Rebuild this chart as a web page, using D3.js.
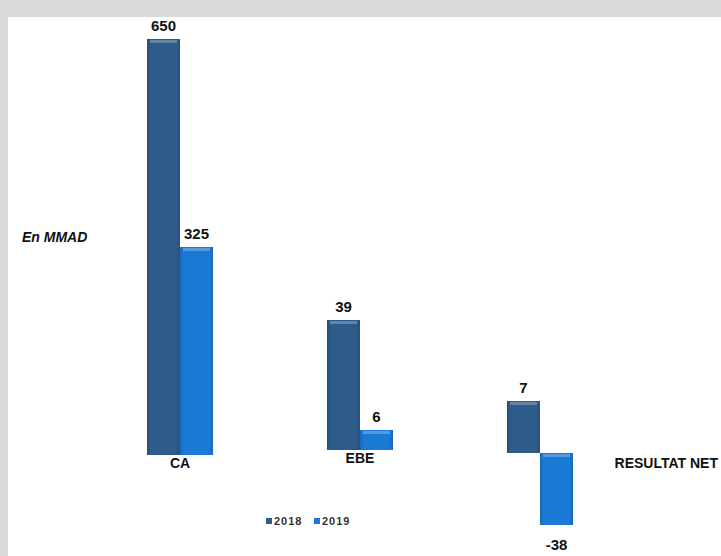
<!DOCTYPE html>
<html>
<head>
<meta charset="utf-8">
<script src="https://cdn.jsdelivr.net/npm/d3@7"></script>
<style>
  body { margin: 0; background: #d9d9d9; }
  svg { display: block; }
</style>
</head>
<body>
<div id="chart"></div>
<script>
// data
var categories = ["CA", "EBE", "RESULTAT NET"];
var years = ["2018", "2019"];
var values2018 = [650, 39, 7];
var values2019 = [325, 6, -38];
var unitLabel = "En MMAD";

function init(){

    var w = 721;
    var h = 556;

    var svg = d3.select("#chart")
        .append("svg")
        .attr("width", w)
        .attr("height", h);

    // white panel on the grey frame
    svg.append("rect")
        .attr("x", 8)
        .attr("y", 17)
        .attr("width", w - 8)
        .attr("height", h - 17)
        .attr("fill", "#ffffff");

    var colors = { "2018": "#2e5c8a", "2019": "#1a7ad6" };

    var defs = svg.append("defs");
    years.forEach(function(y){
        var c = d3.color(colors[y]);
        var g = defs.append("linearGradient")
            .attr("id", "grad" + y)
            .attr("x1", 0).attr("x2", 1).attr("y1", 0).attr("y2", 0);
        g.append("stop").attr("offset", "0%").attr("stop-color", c.darker(0.4));
        g.append("stop").attr("offset", "12%").attr("stop-color", c);
        g.append("stop").attr("offset", "88%").attr("stop-color", c);
        g.append("stop").attr("offset", "100%").attr("stop-color", c.darker(0.4));
    });

    var x = d3.scaleBand()
        .domain(categories)
        .range([111, 609])
        .paddingInner(0.633)
        .paddingOuter(0.2);

    var xSub = d3.scaleBand()
        .domain(years)
        .range([0, x.bandwidth()]);

    // each group is drawn on its own scale in the original
    var yScales = {
        "CA": d3.scaleLinear().domain([0, 650]).range([455, 39]),
        "EBE": d3.scaleLinear().domain([0, 39]).range([450, 320]),
        "RESULTAT NET": d3.scaleLinear().domain([-38, 0, 7]).range([525, 453, 401])
    };

    var rows = [];
    categories.forEach(function(c, i){
        rows.push({ cat: c, year: "2018", value: values2018[i] });
        rows.push({ cat: c, year: "2019", value: values2019[i] });
    });

    svg.selectAll("rect.bar")
        .data(rows)
        .enter()
        .append("rect")
        .attr("class", "bar")
        .attr("x", function(d){ return x(d.cat) + xSub(d.year); })
        .attr("y", function(d){
            var y = yScales[d.cat];
            return Math.min(y(d.value), y(0));
        })
        .attr("width", xSub.bandwidth())
        .attr("height", function(d){
            var y = yScales[d.cat];
            return Math.abs(y(d.value) - y(0));
        })
        .attr("fill", function(d){ return "url(#grad" + d.year + ")"; });

    // small highlight at top of each bar
    svg.selectAll("rect.shine")
        .data(rows)
        .enter()
        .append("rect")
        .attr("class", "shine")
        .attr("x", function(d){ return x(d.cat) + xSub(d.year) + 3; })
        .attr("y", function(d){
            var y = yScales[d.cat];
            return Math.min(y(d.value), y(0)) + 1;
        })
        .attr("width", xSub.bandwidth() - 6)
        .attr("height", 3)
        .attr("fill", "#ffffff")
        .attr("opacity", 0.25);

    svg.selectAll("text.val")
        .data(rows)
        .enter()
        .append("text")
        .attr("class", "val")
        .attr("x", function(d){ return x(d.cat) + xSub(d.year) + xSub.bandwidth() / 2; })
        .attr("y", function(d){
            var y = yScales[d.cat];
            return d.value >= 0 ? y(d.value) - 8 : y(d.value) + 25;
        })
        .attr("text-anchor", "middle")
        .attr("font-family", "'Liberation Sans', Arial, sans-serif")
        .attr("font-weight", "bold")
        .attr("font-size", 15)
        .attr("fill", "#111")
        .text(function(d){ return d.value; });

    var labelY = { "CA": 468, "EBE": 463, "RESULTAT NET": 468 };

    svg.selectAll("text.cat")
        .data(categories)
        .enter()
        .append("text")
        .attr("class", "cat")
        .attr("x", function(d){
            return d === "RESULTAT NET" ? 718 : x(d) + x.bandwidth() / 2;
        })
        .attr("y", function(d){ return labelY[d]; })
        .attr("text-anchor", function(d){ return d === "RESULTAT NET" ? "end" : "middle"; })
        .attr("font-family", "'Liberation Sans', Arial, sans-serif")
        .attr("font-weight", "bold")
        .attr("font-size", 14)
        .attr("fill", "#111")
        .text(function(d){ return d; });

    svg.append("text")
        .attr("x", 22)
        .attr("y", 242)
        .attr("font-family", "'Liberation Sans', Arial, sans-serif")
        .attr("font-weight", "bold")
        .attr("font-style", "italic")
        .attr("font-size", 14)
        .attr("fill", "#111")
        .text(unitLabel);

    // legend
    var legend = svg.append("g").attr("transform", "translate(266,516)");
    var items = legend.selectAll("g")
        .data(years)
        .enter()
        .append("g")
        .attr("transform", function(d, i){ return "translate(" + (i * 48) + ",0)"; });
    items.append("rect")
        .attr("width", 6)
        .attr("height", 6)
        .attr("y", 2)
        .attr("fill", function(d){ return colors[d]; });
    items.append("text")
        .attr("x", 8)
        .attr("y", 9)
        .attr("font-family", "'Liberation Sans', Arial, sans-serif")
        .attr("font-weight", "bold")
        .attr("font-size", 11)
        .attr("letter-spacing", 1)
        .attr("fill", "#333")
        .text(function(d){ return d; });
}
window.onload = init;
</script>
</body>
</html>
